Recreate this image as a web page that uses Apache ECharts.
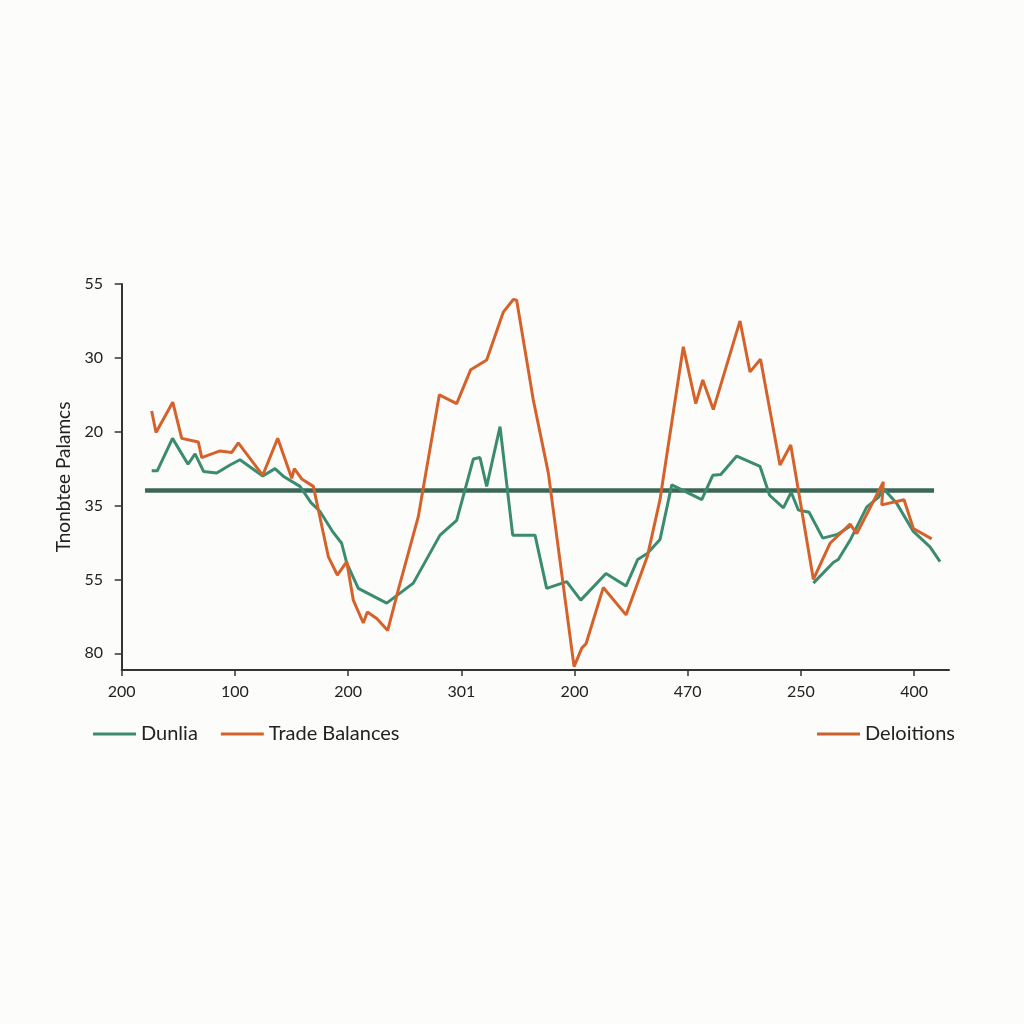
<!DOCTYPE html>
<html>
<head>
<meta charset="utf-8">
<title>Trade Balances</title>
<script src="https://cdn.jsdelivr.net/npm/echarts@6/dist/echarts.min.js"></script>
<style>
  html, body { margin: 0; padding: 0; background: #fcfdfb; }
  #chart { width: 1024px; height: 1024px; }
</style>
</head>
<body>
<div id="chart"></div>
<script>
// tick labels as printed on the picture (axis positions 0,10,20...)
var xLabels = ['200', '100', '200', '301', '200', '470', '250', '400'];
var yLabels = ['55', '30', '20', '35', '55', '80'];

// Dunlia (green) - [x, y] in axis units, '-' = break in the line
var dunlia = [
  [2.65, 25.3], [3.14, 25.3], [4.49, 20.9], [5.86, 24.4], [6.48, 23.0], [7.24, 25.4],
  [8.39, 25.6], [9.57, 24.5], [10.45, 23.8], [12.46, 26.0], [13.54, 25.0], [14.34, 26.1],
  [15.75, 27.4], [16.72, 29.6], [17.52, 30.8], [18.67, 33.6], [19.43, 35.1], [19.88, 37.8],
  [20.9, 41.2], [23.41, 43.2], [25.76, 40.5], [28.12, 34.0], [29.59, 32.0], [31.06, 23.7],
  [31.65, 23.5], [32.24, 27.4], [33.42, 19.3], [34.54, 34.0], [36.51, 34.0], [37.54, 41.2],
  [39.31, 40.3], [40.55, 42.8], [42.78, 39.2], [44.55, 40.9], [45.58, 37.3], [46.43, 36.5],
  [47.55, 34.6], [48.59, 27.2], [51.24, 29.2], [52.21, 25.9], [52.92, 25.8], [54.33, 23.3],
  [56.39, 24.7], [57.23, 28.6], [58.45, 30.3], [59.14, 28.2], [59.77, 30.6], [60.72, 30.9],
  [61.93, 34.4], [63.22, 33.9], [64.34, 32.8],
  ['-', '-'],
  [61.1, 40.5], [62.86, 37.7], [63.3, 37.3], [64.34, 34.7], [65.81, 30.2], [66.84, 28.9],
  [67.28, 27.7], [68.46, 29.7], [69.93, 33.5], [71.4, 35.6], [72.29, 37.6]
];

// Trade Balances (orange)
var tradeBalances = [
  [2.65, 17.2], [3.03, 20.1], [4.51, 16.0], [5.3, 20.9], [6.77, 21.4], [7.07, 23.5],
  [8.68, 22.6], [9.72, 22.8], [10.3, 21.5], [12.46, 25.9], [13.78, 20.9], [15.02, 26.3],
  [15.25, 25.0], [15.9, 26.4], [16.93, 27.4], [18.25, 36.9], [19.05, 39.4], [19.88, 37.6],
  [20.46, 42.8], [21.34, 45.9], [21.7, 44.4], [22.53, 45.3], [23.5, 46.9], [24.43, 41.4],
  [26.2, 31.5], [28.06, 15.0], [29.59, 16.2], [30.83, 11.6], [32.24, 10.3], [33.71, 3.8],
  [34.59, 2.1], [34.89, 2.2], [36.36, 15.7], [37.69, 25.6], [39.96, 51.8], [40.64, 49.3],
  [41.02, 48.7], [42.54, 41.1], [44.55, 44.8], [46.43, 36.9], [47.55, 29.2], [49.61, 8.5],
  [50.71, 16.2], [51.33, 13.0], [52.26, 17.0], [54.62, 5.0], [55.5, 11.9], [56.43, 10.2],
  [58.15, 24.5], [59.1, 21.8], [61.1, 40.0], [62.57, 35.1], [64.34, 32.5], [64.93, 33.8],
  [67.28, 26.8], [67.14, 29.9], [69.11, 29.2], [69.93, 33.1], [71.55, 34.5]
];

// flat reference line
var baseLine = [[2.06, 27.96], [71.76, 27.96]];

var xTicks = [0, 10, 20, 30, 40, 50, 60, 70];
var yTicks = [0, 10, 20, 30, 40, 50];

var green = '#3b8c6f';
var orange = '#d5622b';
var font = 'Lato, "Open Sans", sans-serif';

var chart = echarts.init(document.getElementById('chart'));
chart.setOption({
  animation: false,
  backgroundColor: '#fcfdfb',
  textStyle: { fontFamily: font, color: '#222' },
  grid: { left: 121.7, right: 75, top: 284, bottom: 354 },
  legend: [{
    data: ['Dunlia', 'Trade Balances'],
    left: 88, top: 719, icon: 'rect',
    itemWidth: 43, itemHeight: 3, itemGap: 23,
    textStyle: { fontSize: 20, color: '#222', fontFamily: font }
  }, {
    data: ['Deloitions'],
    left: 812, top: 719, icon: 'rect',
    itemWidth: 43, itemHeight: 3,
    textStyle: { fontSize: 20, color: '#222', fontFamily: font }
  }],
  xAxis: {
    type: 'value', min: 0, max: 73.08, interval: 10,
    axisLine: { onZero: false, lineStyle: { color: '#333', width: 2 } },
    axisTick: { customValues: xTicks, length: 6, lineStyle: { color: '#333', width: 1.5 } },
    axisLabel: {
      customValues: xTicks, margin: 14, fontSize: 16, color: '#222',
      formatter: function (v) { return xLabels[Math.round(v / 10)] || ''; }
    },
    splitLine: { show: false }
  },
  yAxis: {
    type: 'value', inverse: true, min: 0, max: 52.26, interval: 10, offset: 3.7,
    name: 'Tnonbtee Palamcs', nameLocation: 'middle', nameGap: 42,
    nameTextStyle: { fontSize: 19, color: '#222' },
    axisLine: { show: true, lineStyle: { color: '#333', width: 2 } },
    axisTick: { show: true, customValues: yTicks, length: 7, lineStyle: { color: '#333', width: 1.5 } },
    axisLabel: {
      customValues: yTicks, margin: 15, fontSize: 16, color: '#222',
      formatter: function (v) { return yLabels[Math.round(v / 10)] || ''; }
    },
    splitLine: { show: false }
  },
  series: [{
    name: 'base', type: 'line', data: baseLine, symbol: 'none',
    lineStyle: { color: '#3c6757', width: 4.5 }, silent: true
  }, {
    name: 'Dunlia', type: 'line', data: dunlia, symbol: 'none',
    color: green, lineStyle: { color: green, width: 3 }
  }, {
    name: 'Trade Balances', type: 'line', data: tradeBalances, symbol: 'none',
    color: orange, lineStyle: { color: orange, width: 3 }
  }, {
    name: 'Deloitions', type: 'line', data: [], symbol: 'none',
    color: '#c9622c', lineStyle: { color: '#c9622c', width: 3 }
  }]
});
</script>
</body>
</html>
